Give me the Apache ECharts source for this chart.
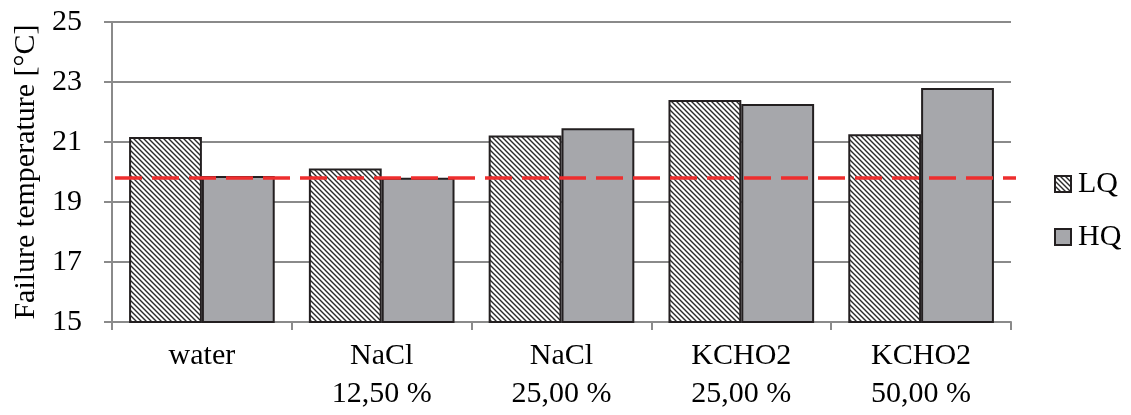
<!DOCTYPE html>
<html><head><meta charset="utf-8">
<script src="https://cdn.jsdelivr.net/npm/echarts@6/dist/echarts.min.js"></script>
<style>html,body{margin:0;padding:0;background:#fff}#c{width:1131px;height:415px}</style>
</head><body><div id="c"></div>
<script>
const categories = ['water', 'NaCl\n12,50 %', 'NaCl\n25,00 %', 'KCHO2\n25,00 %', 'KCHO2\n50,00 %'];
const lqValues = [21.17, 20.12, 21.22, 22.4, 21.26];
const hqValues = [19.87, 19.81, 21.46, 22.27, 22.8];
const referenceLine = 19.8;
const yTicks = { min: 15, max: 25, interval: 2 };

function hatch() {
  const c = document.createElement('canvas');
  c.width = 5; c.height = 5;
  const g = c.getContext('2d');
  g.fillStyle = '#ffffff'; g.fillRect(0, 0, 5, 5);
  g.strokeStyle = '#2a2a2a'; g.lineWidth = 1.4;
  g.beginPath();
  g.moveTo(-1, -1); g.lineTo(6, 6);
  g.moveTo(-1, 4); g.lineTo(1, 6);
  g.moveTo(4, -1); g.lineTo(6, 1);
  g.stroke();
  return c;
}
const hatchFill = { image: hatch(), repeat: 'repeat' };
const font = "'Liberation Serif', 'Times New Roman', serif";
const fs = 30;

const chart = echarts.init(document.getElementById('c'));
chart.setOption({
  animation: false,
  textStyle: { fontFamily: font },
  grid: { left: 112, right: 120, top: 22, bottom: 93 },
  legend: {
    orient: 'vertical', left: 1049, top: 164, itemGap: 23,
    itemWidth: 16, itemHeight: 16,
    textStyle: { fontSize: fs, color: '#000', fontFamily: font, padding: [0, 0, 0, 2] },
    data: [
      { name: 'LQ', icon: 'rect', itemStyle: { color: hatchFill, borderColor: '#231f20', borderWidth: 2 } },
      { name: 'HQ', icon: 'rect', itemStyle: { color: '#a6a7ab', borderColor: '#231f20', borderWidth: 2 } }
    ]
  },
  xAxis: {
    type: 'category', data: categories,
    axisLine: { lineStyle: { color: '#8a8a8a', width: 2 } },
    axisTick: { show: true, length: 8, lineStyle: { color: '#8a8a8a', width: 2 } },
    axisLabel: { fontSize: fs, color: '#000', lineHeight: 38, margin: 15, fontFamily: font }
  },
  yAxis: {
    type: 'value', min: yTicks.min, max: yTicks.max, interval: yTicks.interval,
    name: 'Failure temperature [°C]', nameLocation: 'middle', nameGap: 69,
    nameTextStyle: { fontSize: fs, color: '#000', fontFamily: font },
    axisLine: { show: true, lineStyle: { color: '#8a8a8a', width: 2 } },
    axisTick: { show: true, length: 8, lineStyle: { color: '#8a8a8a', width: 2 } },
    splitLine: { lineStyle: { color: '#8a8a8a', width: 2 } },
    axisLabel: { fontSize: fs, color: '#000', margin: 30, fontFamily: font }
  },
  series: [
    {
      name: 'LQ', type: 'bar', data: lqValues, barGap: '0%', barCategoryGap: '19%',
      itemStyle: { color: hatchFill, borderColor: '#231f20', borderWidth: 2 },
      markLine: {
        silent: true, symbol: 'none', label: { show: false },
        lineStyle: { color: '#ee2e2e', type: [27, 10], width: 3.5, opacity: 1 },
        data: [[{ coord: [0, referenceLine], x: 115 }, { coord: [4, referenceLine], x: 1016 }]]
      }
    },
    {
      name: 'HQ', type: 'bar', data: hqValues,
      itemStyle: { color: '#a6a7ab', borderColor: '#231f20', borderWidth: 2 }
    }
  ]
});
</script></body></html>
